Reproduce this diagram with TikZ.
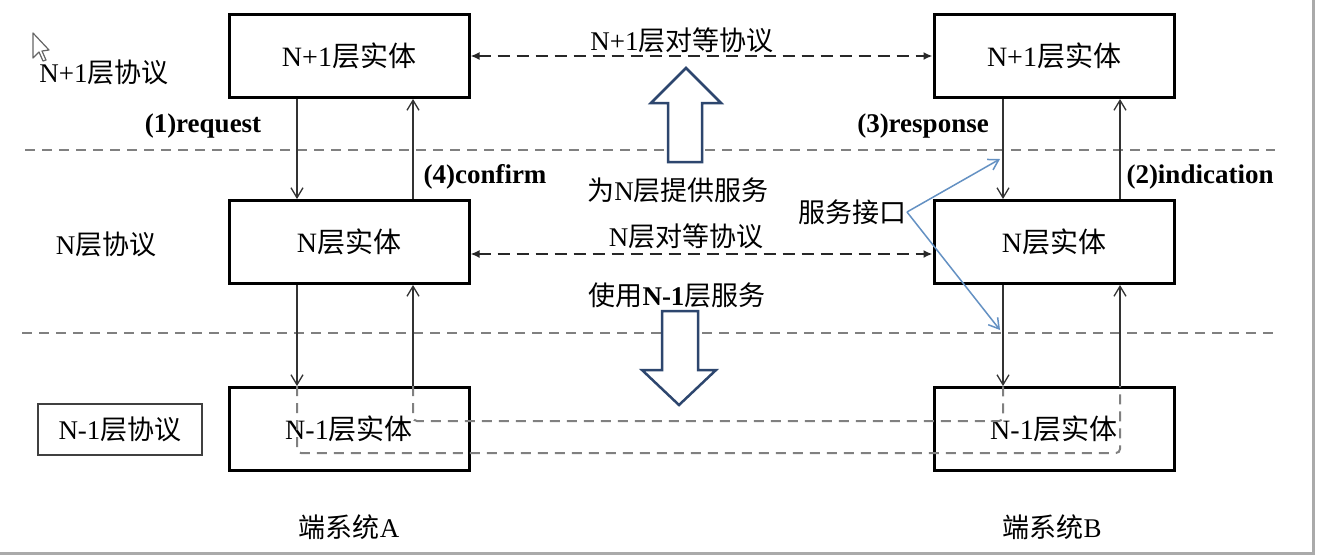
\documentclass[tikz,border=0pt]{standalone}
\usepackage{fontspec}
\setmainfont{Liberation Serif}
\newfontfamily\cjk{Noto Sans CJK SC}
\newcommand\C[1]{{\cjk #1}}
\usetikzlibrary{arrows.meta}
\definecolor{sepgray}{RGB}{128,128,128}
\definecolor{peergray}{RGB}{40,40,40}
\definecolor{ifblue}{RGB}{100,145,195}
\definecolor{bigblue}{RGB}{45,70,110}
\definecolor{framegray}{RGB}{170,170,170}
\tikzset{
  entity/.style={draw=black, line width=3pt, minimum width=240pt, minimum height=83pt, inner sep=0pt, fill=white, font=\fontsize{28}{32}\selectfont},
  lbl/.style={inner sep=0pt, font=\fontsize{27}{31}\selectfont},
  blbl/.style={inner sep=0pt, font=\fontsize{27}{31}\selectfont\bfseries},
  svc/.style={draw=black!80, line width=1.3pt, -{Straight Barb[length=10pt,width=12pt]}},
  sep/.style={draw=sepgray, line width=2pt, dash pattern=on 10pt off 7pt},
  peer/.style={draw=peergray, line width=2.2pt, dash pattern=on 12pt off 7pt, {Latex[length=9pt,width=8pt]}-{Latex[length=9pt,width=8pt]}},
  loop/.style={draw=sepgray, line width=2pt, dash pattern=on 10pt off 7pt, rounded corners=4pt},
  ifarrow/.style={draw=ifblue, line width=1.5pt, -{Straight Barb[length=10pt,width=12pt]}},
  bigarrow/.style={draw=bigblue, line width=2.5pt, fill=white, line join=miter},
}
\begin{document}
\begin{tikzpicture}[x=1pt,y=-1pt]
\useasboundingbox (0,0) rectangle (1317,558);
\fill[white] (0,0) rectangle (1317,558);
% screenshot frame
\draw[framegray, line width=3pt] (1313,0) -- (1313,553) -- (0,553);

% separators
\draw[sep] (25,150) -- (1275,150);
\draw[sep] (22,333) -- (1273,333);

% entities
\node[entity] (A1) at (349,56) {N+1\C{层实体}};
\node[entity] (B1) at (1054,56) {N+1\C{层实体}};
\node[entity] (A2) at (349,242) {N\C{层实体}};
\node[entity] (B2) at (1054,242) {N\C{层实体}};
\node[entity] (A3) at (349,429) {N-1\C{层实体}};
\node[entity] (B3) at (1054,429) {N-1\C{层实体}};

% x positions of service lines
\coordinate (xal) at (297,0);
\coordinate (xar) at (413,0);
\coordinate (xbl) at (1003,0);
\coordinate (xbr) at (1120,0);
\coordinate (yn) at (0,254);
\coordinate (yin) at (0,421);
\coordinate (yout) at (0,453);

% service primitives
\draw[svc] (A1.south -| xal) -- (A2.north -| xal);
\draw[svc] (A2.north -| xar) -- (A1.south -| xar);
\draw[svc] (B1.south -| xbl) -- (B2.north -| xbl);
\draw[svc] (B2.north -| xbr) -- (B1.south -| xbr);
\draw[svc] (A2.south -| xal) -- (A3.north -| xal);
\draw[svc] (A3.north -| xar) -- (A2.south -| xar);
\draw[svc] (B2.south -| xbl) -- (B3.north -| xbl);
\draw[svc] (B3.north -| xbr) -- (B2.south -| xbr);

% N-1 layer dashed paths
\draw[loop] (A3.north -| xal) -- (xal |- yout) -- (xbr |- yout) -- (B3.north -| xbr);
\draw[loop] (A3.north -| xar) -- (xar |- yin) -- (xbl |- yin) -- (B3.north -| xbl);

% peer protocols
\draw[peer] (A1.east) -- (B1.west);
\draw[peer] (A2.east |- yn) -- (B2.west |- yn);

% big block arrows
\draw[bigarrow] (668,162) -- (668,103) -- (651,103) -- (686,68) -- (721,103) -- (702,103) -- (702,162) -- cycle;
\draw[bigarrow] (662,311) -- (698,311) -- (698,370) -- (716,370) -- (679,405) -- (642,370) -- (662,370) -- cycle;

% labels
\node[lbl] (pN1) at (682,40) {N+1\C{层对等协议}};
\node[lbl] (pN) at (686,236) {N\C{层对等协议}};
\node[lbl] (up) at (678,190) {\C{为}N\C{层提供服务}};
\node[lbl] (down) at (677,295) {\C{使用}\textbf{N-1}\C{层服务}};
\node[blbl] (r1) at (203,126) {(1)request};
\node[blbl] (r4) at (485,177) {(4)confirm};
\node[blbl] (r3) at (923,126) {(3)response};
\node[blbl] (r2) at (1200,177) {(2)indication};
\node[lbl] (LN1) at (104,72) {N+1\C{层协议}};
\node[lbl] (LN) at (106,244) {N\C{层协议}};
\node[lbl, draw=black!75, line width=2pt, minimum width=164pt, minimum height=51pt] (LN0) at (120,429) {N-1\C{层协议}};
\node[lbl] (sysA) at (349,527) {\C{端系统}A};
\node[lbl] (sysB) at (1052,527) {\C{端系统}B};
\node[lbl, anchor=east] (iface) at (907,212) {\C{服务接口}};
\coordinate (ifup) at (1000,159);
\coordinate (ifdn) at (1000,330);
\draw[ifarrow] (iface.east) -- (ifup);
\draw[ifarrow] (iface.east) -- (ifdn);

% mouse cursor
\draw[black!60, line width=1.2pt, line join=round] (33,33) -- (33,58) -- (39,52) -- (43,61) -- (46,60) -- (42,51) -- (49,50) -- cycle;
\end{tikzpicture}
\end{document}
